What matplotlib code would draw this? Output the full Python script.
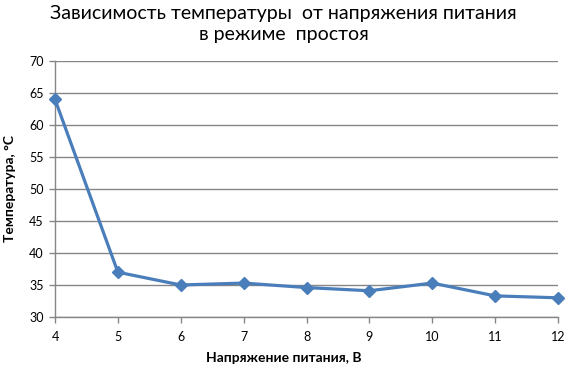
import matplotlib
matplotlib.use('Agg')
import matplotlib.pyplot as plt

# данные с графика
voltage = [4, 5, 6, 7, 8, 9, 10, 11, 12]
temperature = [64.0, 37.0, 35.0, 35.3, 34.6, 34.1, 35.3, 33.3, 33.0]
y_ticks = [30, 35, 40, 45, 50, 55, 60, 65, 70]

title = 'Зависимость температуры  от напряжения питания\nв режиме  простоя'
xlabel = 'Напряжение питания, В'
ylabel = 'Температура, °С'

plt.rcParams['font.family'] = ['Lato', 'DejaVu Sans']

def main():
  fig = plt.figure(figsize=(5.67, 3.70), dpi=100)
  ax = fig.add_axes([55 / 567, 53 / 370, 503 / 567, 256 / 370])

  ax.plot(voltage, temperature, color='#4A7EBB', linewidth=2.3,
          marker='D', markersize=6, zorder=3, clip_on=False)

  ax.set_xlim(4, 12)
  ax.set_ylim(30, 70)
  ax.set_xticks(voltage)
  ax.set_yticks(y_ticks)
  ax.grid(axis='y', color='#868686', linewidth=1.0)
  ax.set_axisbelow(True)

  for s in ['top', 'right']:
    ax.spines[s].set_visible(False)
  for s in ['left', 'bottom']:
    ax.spines[s].set_color('#868686')
    ax.spines[s].set_linewidth(1.0)

  ax.tick_params(axis='both', direction='out', length=4, width=1,
                 color='#868686', labelsize=9, labelcolor='black')
  ax.tick_params(axis='x', pad=6)
  ax.tick_params(axis='y', pad=4)

  fig.text(0.5, 1 - 24 / 370, title, ha='center', va='center', fontsize=14,
           linespacing=1.25)
  fig.text(0.5, 1 - 358 / 370, xlabel, ha='center', va='center',
           fontsize=10, fontweight='bold')
  fig.text(10 / 567, 1 - 188 / 370, ylabel, ha='center', va='center',
           rotation=90, fontsize=10, fontweight='bold')

  fig.savefig('out.png', dpi=100)
  plt.close(fig)

if __name__ == '__main__':
  main()
